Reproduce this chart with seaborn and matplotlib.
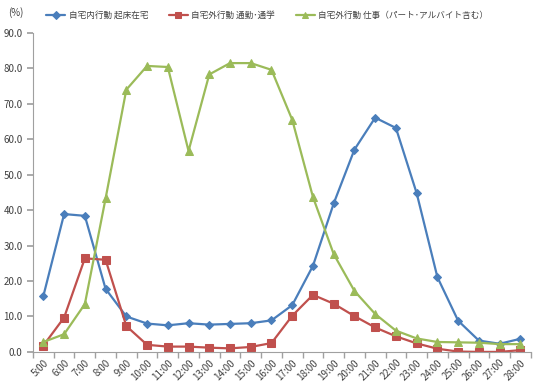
import pandas as pd
import numpy as np
import matplotlib.pyplot as plt
import seaborn as sns
from matplotlib.ticker import FixedLocator, FormatStrFormatter

# time slots (5:00 .. 28:00)
hours = [f"{h}:00" for h in range(5, 29)]

home_wake = [15.8, 38.9, 38.4, 17.8, 10.0, 8.0, 7.5, 8.1, 7.7, 7.9, 8.1, 8.9,
             13.2, 24.3, 41.9, 57.1, 66.1, 63.2, 44.8, 21.1, 8.8, 3.2, 2.3, 3.7]
commute = [1.8, 9.7, 26.4, 26.0, 7.3, 2.0, 1.5, 1.5, 1.2, 1.0, 1.4, 2.5,
           10.2, 16.1, 13.6, 10.1, 6.9, 4.4, 2.4, 0.9, 0.1, 0.0, 0.0, 0.5]
work = [2.8, 5.0, 13.5, 43.3, 74.0, 80.7, 80.4, 56.7, 78.3, 81.5, 81.5, 79.6,
        65.5, 43.7, 27.6, 17.2, 10.7, 6.0, 3.8, 2.8, 2.7, 2.6, 2.2, 2.2]

names = ['自宅内行動 起床在宅', '自宅外行動 通勤･通学', '自宅外行動 仕事（パート･アルバイト含む）']

df = pd.DataFrame({'time': hours * 3,
                   'pos': list(range(len(hours))) * 3,
                   'value': home_wake + commute + work,
                   'series': np.repeat(names, len(hours))})

sns.set_theme(style="white")
plt.rcParams['font.family'] = ['Noto Sans CJK JP', 'DejaVu Sans']

fig = plt.figure(figsize=(5.41, 3.88), dpi=100)
ax = fig.add_axes([0.061, 0.093, 0.92, 0.822])

palette = {names[0]: '#4A7EBB', names[1]: '#C0504D', names[2]: '#9BBB59'}
markers = {names[0]: 'D', names[1]: 's', names[2]: '^'}
sizes = {names[0]: 4.5, names[1]: 6, names[2]: 6}

for n in names:
    sub = df[df['series'] == n]
    sns.lineplot(data=sub, x='pos', y='value', color=palette[n], marker=markers[n],
                 markersize=sizes[n], markeredgecolor=palette[n], linewidth=1.6,
                 label=n, ax=ax, sort=False)

ax.set_xlim(-0.5, len(hours) - 0.5)
ax.set_ylim(0, 90)
ax.set_yticks(np.arange(0, 91, 10))
ax.yaxis.set_major_formatter(FormatStrFormatter('%.1f'))
ax.set_xticks(range(len(hours)))
ax.set_xticklabels(hours, rotation=45, ha='right', rotation_mode='anchor')
ax.xaxis.set_minor_locator(FixedLocator(np.arange(-0.5, len(hours), 1)))
ax.tick_params(axis='x', which='major', length=0, labelsize=7, pad=4, colors='#404040')
ax.tick_params(axis='x', which='minor', length=4, color='#A0A0A0', bottom=True)
ax.tick_params(axis='y', length=4, color='#A0A0A0', labelsize=7, colors='#404040', left=True)
ax.set_xlabel('')
ax.set_ylabel('')

for s in ['top', 'right']:
    ax.spines[s].set_visible(False)
for s in ['left', 'bottom']:
    ax.spines[s].set_color('#A0A0A0')
    ax.spines[s].set_linewidth(0.8)

leg = ax.legend(loc='lower left', bbox_to_anchor=(0.02, 1.03), ncol=3, frameon=False,
                fontsize=6.2, handlelength=2.2, handletextpad=0.4,
                columnspacing=2.4, borderaxespad=0, markerscale=0.8)
for t in leg.get_texts():
    t.set_color('#404040')
fig.text(0.015, 0.968, '(%)', fontsize=7, color='#404040', va='center')

fig.savefig('out.png', dpi=100)
